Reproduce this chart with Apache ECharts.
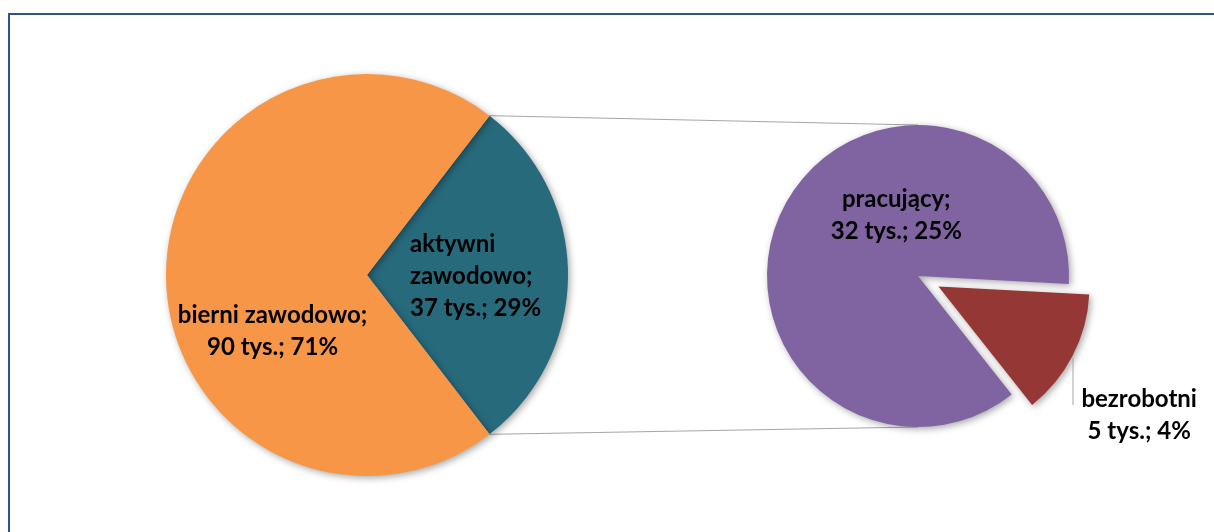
<!DOCTYPE html>
<html>
<head>
<meta charset="utf-8">
<script src="https://cdn.jsdelivr.net/npm/echarts@6/dist/echarts.min.js"></script>
<style>
  html, body { margin: 0; background: #fff; }
  #chart { width: 1214px; height: 532px; }
</style>
</head>
<body>
<div id="chart"></div>
<script>
// dane (tys. osób)
var mainNames = ['aktywni zawodowo', 'bierni zawodowo'];
var mainValues = [37, 90];
var subNames = ['bezrobotni', 'pracujący'];
var subValues = [5, 32];

var total = mainValues[0] + mainValues[1];
function pct(v) { return Math.round(v / total * 100); }

// geometria obu kół
var c1 = [367, 275], r1 = 201;
var c2 = [918, 276], r2 = 151;
var explode = 23;

var chart = echarts.init(document.getElementById('chart'));

var txt = { color: '#000', fontFamily: 'Lato', fontWeight: 'bold', fontSize: 24, lineHeight: 32 };
var shadow = { shadowBlur: 7, shadowColor: 'rgba(0,0,0,0.35)', shadowOffsetX: 2, shadowOffsetY: 2 };

// kąt startowy tak, by wycinek "aktywni" był symetrycznie po prawej
var tealAngle = mainValues[0] / total * 360;
var start1 = tealAngle / 2;
var a = start1 * Math.PI / 180;
var p1 = [c1[0] + r1 * Math.cos(a), c1[1] - r1 * Math.sin(a)];
var p2 = [c1[0] + r1 * Math.cos(a), c1[1] + r1 * Math.sin(a)];

var bezLabel = {
  formatter: function (p) {
    return p.name + '\n' + p.value + ' tys.; ' + pct(p.value) + '%';
  },
  offset: [131, 93]
};

var option = {
  animation: false,
  backgroundColor: '#fff',
  graphic: [
    { type: 'rect', shape: { x: 9, y: 14, width: 1400, height: 700 },
      style: { fill: 'none', stroke: '#2F5288', lineWidth: 2 }, z: 0 },
    { type: 'line', shape: { x1: p1[0], y1: p1[1], x2: c2[0], y2: c2[1] - r2 },
      style: { stroke: '#A6A6A6', lineWidth: 1 }, z: 0 },
    { type: 'line', shape: { x1: p2[0], y1: p2[1], x2: c2[0], y2: c2[1] + r2 },
      style: { stroke: '#A6A6A6', lineWidth: 1 }, z: 0 },
    // linia odniesienia etykiety "bezrobotni"
    { type: 'line', shape: { x1: c2[0] + 155, y1: c2[1] + 82, x2: c2[0] + 155, y2: c2[1] + 129 },
      style: { stroke: '#A6A6A6', lineWidth: 1 }, z: 5 }
  ],
  series: [
    {
      type: 'pie',
      center: c1,
      radius: r1,
      startAngle: start1,
      clockwise: true,
      silent: true,
      emphasis: { disabled: true },
      itemStyle: shadow,
      label: Object.assign({ position: 'inside' }, txt),
      labelLine: { show: false },
      data: [
        { name: mainNames[0], value: mainValues[0],
          itemStyle: { color: '#276A7C' },
          label: {
            formatter: function (p) {
              return '{l|aktywni}\n{l|zawodowo;}\n{l|' + p.value + ' tys.; ' + pct(p.value) + '%}';
            },
            offset: [5, 1],
            rich: { l: Object.assign({ align: 'left' }, txt) }
          } },
        { name: mainNames[1], value: mainValues[1],
          itemStyle: { color: '#F79646' },
          label: {
            formatter: function (p) {
              return p.name + ';\n' + p.value + ' tys.; ' + pct(p.value) + '%';
            },
            offset: [9, 56]
          } }
      ]
    },
    {
      type: 'pie',
      center: c2,
      radius: r2,
      startAngle: -3,
      clockwise: true,
      silent: true,
      selectedMode: 'single',
      selectedOffset: explode,
      emphasis: { disabled: true },
      itemStyle: shadow,
      label: Object.assign({ position: 'inside' }, txt),
      labelLine: { show: false },
      data: [
        { name: subNames[0], value: subValues[0], selected: true,
          itemStyle: { color: '#953735' },
          label: bezLabel,
          select: { label: bezLabel } },
        { name: subNames[1], value: subValues[1],
          itemStyle: { color: '#8064A2' },
          label: {
            formatter: function (p) {
              return p.name + ';\n' + p.value + ' tys.; ' + pct(p.value) + '%';
            },
            offset: [48, -25]
          } }
      ]
    }
  ]
};

chart.setOption(option);
</script>
</body>
</html>
